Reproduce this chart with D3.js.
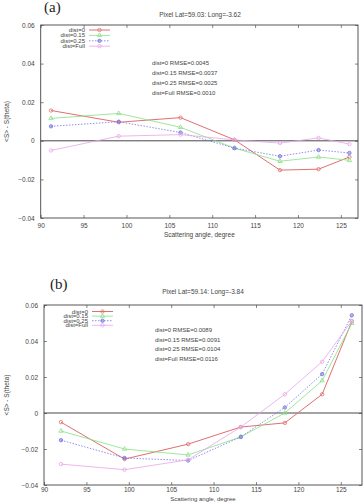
<!DOCTYPE html>
<html>
<head>
<meta charset="utf-8">
<script src="https://cdn.jsdelivr.net/npm/d3@7"></script>
<style>
  body { margin: 0; background: #fff; }
  svg { display: block; font-family: "Liberation Sans", Arial, sans-serif; }
</style>
</head>
<body>
<div id="chart"></div>
<script>
// series names and shared tick labels
const seriesNames = ['dist=0', 'dist=0.15', 'dist=0.25', 'dist=Full'];
const xTicks = [90, 95, 100, 105, 110, 115, 120, 125];
const yTicks = [-0.04, -0.02, 0, 0.02, 0.04, 0.06];

// panel (a)
const anglesA = [91.2, 99.1, 106.3, 112.6, 117.9, 122.4, 126.0];
const dist0A = [0.0157, 0.0096, 0.0120, 0.0005, -0.0152, -0.0147, -0.0084];
const dist015A = [0.0116, 0.0142, 0.0070, -0.0038, -0.0106, -0.0084, -0.0101];
const dist025A = [0.0075, 0.0099, 0.0043, -0.0038, -0.0080, -0.0048, -0.0063];
const distFullA = [-0.0050, 0.0024, 0.0032, 0.0005, -0.0012, 0.0015, -0.0017];
const rmseA = ['dist=0 RMSE=0.0045', 'dist=0.15 RMSE=0.0037', 'dist=0.25 RMSE=0.0025', 'dist=Full RMSE=0.0010'];

// panel (b)
const anglesB = [92.0, 99.5, 107.0, 113.2, 118.4, 122.8, 126.3];
const dist0B = [-0.0051, -0.0256, -0.0173, -0.0078, -0.0055, 0.0104, 0.0509];
const dist015B = [-0.0100, -0.0200, -0.0233, -0.0133, 0.0000, 0.0180, 0.0498];
const dist025B = [-0.0151, -0.0250, -0.0264, -0.0133, 0.0031, 0.0216, 0.0543];
const distFullB = [-0.0284, -0.0315, -0.0260, -0.0078, 0.0104, 0.0285, 0.0512];
const rmseB = ['dist=0 RMSE=0.0089', 'dist=0.15 RMSE=0.0091', 'dist=0.25 RMSE=0.0104', 'dist=Full RMSE=0.0116'];

const colors = ['#e07070', '#86e086', '#7474e4', '#e8a4e8'];
const widths = [1, 0.8, 0.8, 0.8];
const dashes = [null, null, '1.5,1.5', null];
const markers = ['circle', 'triangle', 'star', 'circle'];

const svg = d3.select('#chart').append('svg')
    .attr('width', 363)
    .attr('height', 502);

function drawMarker(g, type, x, y, color) {
    if (type === 'circle') {
        g.append('circle').attr('cx', x).attr('cy', y).attr('r', 1.7)
            .attr('fill', 'none').attr('stroke', color).attr('stroke-width', 0.8);
    } else if (type === 'triangle') {
        g.append('path')
            .attr('d', d3.symbol(d3.symbolTriangle, 8)())
            .attr('transform', `translate(${x},${y})`)
            .attr('fill', 'none').attr('stroke', color).attr('stroke-width', 0.8);
    } else {
        g.append('circle').attr('cx', x).attr('cy', y).attr('r', 1.7)
            .attr('fill', color).attr('fill-opacity', 0.5)
            .attr('stroke', color).attr('stroke-width', 0.8);
    }
}

function drawPanel(cfg) {
    const x = d3.scaleLinear().domain(cfg.xDomain).range([cfg.left, cfg.right]);
    const y = d3.scaleLinear().domain([-0.04, 0.06]).range([cfg.bottom, cfg.top]);
    const g = svg.append('g');

    // panel letter
    g.append('text')
        .attr('x', cfg.letterX).attr('y', cfg.letterY)
        .attr('font-family', '"Liberation Serif", "Times New Roman", serif')
        .attr('font-size', 15).attr('fill', '#222')
        .text(cfg.letter);

    // title
    g.append('text')
        .attr('x', cfg.titleX).attr('y', cfg.titleY)
        .attr('text-anchor', 'middle').attr('font-size', 6.5).attr('fill', '#444')
        .text(cfg.title);

    // axes with inward ticks, mirrored
    const fmt = d => d === 0 ? '0' : d3.format('.2f')(d);
    const axB = g.append('g').attr('transform', `translate(0,${cfg.bottom})`)
        .call(d3.axisBottom(x).tickValues(xTicks).tickSizeInner(-3).tickSizeOuter(0).tickPadding(cfg.xPad));
    const axT = g.append('g').attr('transform', `translate(0,${cfg.top})`)
        .call(d3.axisTop(x).tickValues(xTicks).tickSizeInner(-3).tickSizeOuter(0).tickFormat(''));
    const axL = g.append('g').attr('transform', `translate(${cfg.left},0)`)
        .call(d3.axisLeft(y).tickValues(yTicks).tickSizeInner(-3).tickSizeOuter(0).tickPadding(6).tickFormat(fmt));
    const axR = g.append('g').attr('transform', `translate(${cfg.right},0)`)
        .call(d3.axisRight(y).tickValues(yTicks).tickSizeInner(-3).tickSizeOuter(0).tickFormat(''));
    [axB, axT, axL, axR].forEach(a => {
        a.select('.domain').remove();
        a.selectAll('.tick line').attr('stroke', '#555').attr('stroke-width', 0.7);
        a.selectAll('.tick text').attr('font-size', 6.5).attr('fill', '#444');
    });

    // frame
    g.append('rect')
        .attr('x', cfg.left).attr('y', cfg.top)
        .attr('width', cfg.right - cfg.left).attr('height', cfg.bottom - cfg.top)
        .attr('fill', 'none').attr('stroke', '#444').attr('stroke-width', 0.9);

    // zero line
    g.append('line')
        .attr('x1', cfg.left).attr('x2', cfg.right)
        .attr('y1', y(0)).attr('y2', y(0))
        .attr('stroke', '#333').attr('stroke-width', 0.9);

    // axis labels
    g.append('text')
        .attr('x', (cfg.left + cfg.right) / 2).attr('y', cfg.xLabelY)
        .attr('text-anchor', 'middle').attr('font-size', cfg.xLabelSize).attr('fill', '#444')
        .text('Scattering angle, degree');
    g.append('text')
        .attr('transform', `translate(9,${(cfg.top + cfg.bottom) / 2}) rotate(-90)`)
        .attr('text-anchor', 'middle').attr('font-size', 6.5).attr('fill', '#444')
        .text('<S> - S(theta)');

    // series
    const line = d3.line().x(d => x(d[0])).y(d => y(d[1]));
    cfg.series.forEach((vals, i) => {
        const pts = cfg.angles.map((a, j) => [a, vals[j]]);
        const sg = g.append('g');
        sg.append('path').datum(pts)
            .attr('d', line)
            .attr('fill', 'none')
            .attr('stroke', colors[i])
            .attr('stroke-width', widths[i])
            .attr('stroke-dasharray', dashes[i]);
        pts.forEach(p => drawMarker(sg, markers[i], x(p[0]), y(p[1]), colors[i]));
    });

    // legend
    seriesNames.forEach((name, i) => {
        const ly = cfg.legendY + i * cfg.legendStep;
        g.append('text')
            .attr('x', cfg.legendX).attr('y', ly + 2)
            .attr('text-anchor', 'end').attr('font-size', 6).attr('fill', '#444')
            .text(name);
        g.append('line')
            .attr('x1', cfg.legendX + 4).attr('x2', cfg.legendX + 25)
            .attr('y1', ly).attr('y2', ly)
            .attr('stroke', colors[i]).attr('stroke-width', widths[i])
            .attr('stroke-dasharray', dashes[i]);
        drawMarker(g, markers[i], cfg.legendX + 14.5, ly, colors[i]);
    });

    // RMSE notes
    cfg.rmse.forEach((t, i) => {
        g.append('text')
            .attr('x', cfg.rmseX).attr('y', cfg.rmseY + i * cfg.rmseStep + 2)
            .attr('font-size', 6).attr('fill', '#444')
            .text(t);
    });
}

drawPanel({
    letter: '(a)', letterX: 44, letterY: 12,
    title: 'Pixel Lat=59.03: Long=-3.62', titleX: 200, titleY: 17,
    xDomain: [90, 127], left: 40.7, right: 358, top: 25, bottom: 218,
    xPad: 5, xLabelY: 237, xLabelSize: 6.5,
    angles: anglesA, series: [dist0A, dist015A, dist025A, distFullA],
    legendX: 85, legendY: 30, legendStep: 5.4,
    rmse: rmseA, rmseX: 152, rmseY: 63, rmseStep: 10
});

drawPanel({
    letter: '(b)', letterX: 50, letterY: 289,
    title: 'Pixel Lat=59.14: Long=-3.84', titleX: 203, titleY: 294,
    xDomain: [90, 127.5], left: 44, right: 362, top: 305, bottom: 485,
    xPad: 2, xLabelY: 501, xLabelSize: 6,
    angles: anglesB, series: [dist0B, dist015B, dist025B, distFullB],
    legendX: 88, legendY: 311.5, legendStep: 4.6,
    rmse: rmseB, rmseX: 155, rmseY: 330, rmseStep: 9.5
});
</script>
</body>
</html>
